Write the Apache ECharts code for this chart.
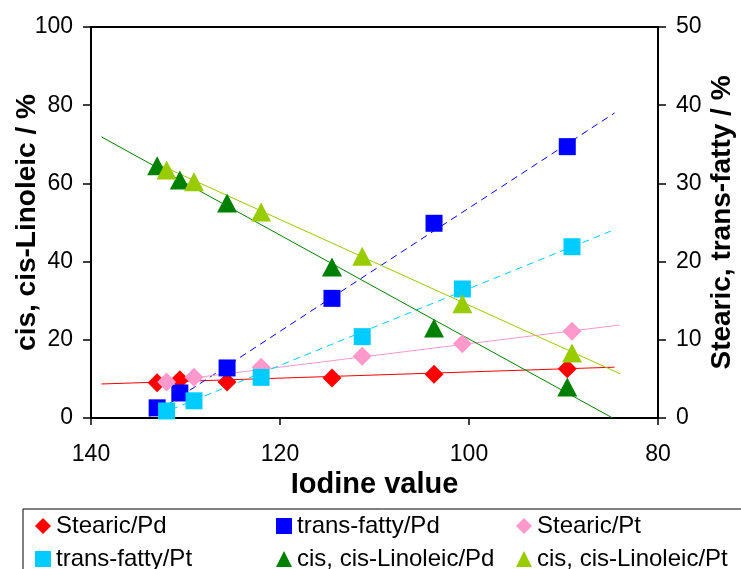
<!DOCTYPE html>
<html>
<head>
<meta charset="utf-8">
<script src="https://cdn.jsdelivr.net/npm/echarts@6/dist/echarts.min.js"></script>
<style>
  html, body { margin: 0; padding: 0; background: #fff; }
  #chart { width: 741px; height: 569px; }
</style>
</head>
<body>
<div id="chart"></div>
<script>
// iodine values for each catalyst
const iodinePd = [133.0, 130.6, 125.6, 114.5, 103.7, 89.6];
const iodinePt = [132.0, 129.1, 122.0, 111.3, 100.7, 89.1];

// right axis (%)
const stearicPd = [4.5, 4.9, 4.6, 5.1, 5.6, 6.3];
const transPd = [1.3, 3.2, 6.4, 15.3, 24.9, 34.7];
const stearicPt = [4.6, 5.2, 6.5, 7.9, 9.5, 11.1];
const transPt = [0.9, 2.2, 5.2, 10.4, 16.5, 21.9];

// left axis (%)
const linoleicPd = [64.5, 60.9, 55.0, 38.6, 23.0, 7.9];
const linoleicPt = [63.4, 60.4, 52.7, 41.4, 29.2, 16.6];

// trend line end points: [x start, x end], [y start, y end]
const trendStearicPdX = [138.9, 84.6], trendStearicPdY = [4.35, 6.5];
const trendTransPdX = [133.8, 84.6], trendTransPdY = [0.2, 39.0];
const trendStearicPtX = [132.7, 84.0], trendStearicPtY = [4.6, 11.9];
const trendTransPtX = [132.7, 85.0], trendTransPtY = [0.5, 23.9];
const trendLinPdX = [138.9, 84.8], trendLinPdY = [71.9, 0];
const trendLinPtX = [132.7, 84.0], trendLinPtY = [64.7, 11.3];

const xTicks = [80, 100, 120, 140];
const leftTicks = [0, 20, 40, 60, 80, 100];
const rightTicks = [0, 10, 20, 30, 40, 50];

const font = 'Liberation Sans, Arial, sans-serif';

const pairs = (xs, ys) => xs.map((x, i) => [x, ys[i]]);

const pointSeries = (name, xs, ys, yAxisIndex, symbol, size, color) => ({
    name: name,
    type: 'scatter',
    yAxisIndex: yAxisIndex,
    data: pairs(xs, ys),
    symbol: symbol,
    symbolSize: size,
    itemStyle: { color: color, opacity: 1 },
    z: 3
});

const trendSeries = (xs, ys, yAxisIndex, color, dashed) => ({
    type: 'line',
    yAxisIndex: yAxisIndex,
    data: pairs(xs, ys),
    showSymbol: false,
    symbol: 'none',
    silent: true,
    lineStyle: { color: color, width: 1, type: dashed ? [7, 5] : 'solid' },
    z: 2
});

const legendItem = (name, icon, left, top) => ({
    left: left,
    top: top,
    padding: 0,
    itemWidth: 16,
    itemHeight: 16,
    selectedMode: false,
    data: [{ name: name, icon: icon, itemStyle: { opacity: 1 } }],
    textStyle: { fontFamily: font, fontSize: 24, color: '#000' }
});

const chart = echarts.init(document.getElementById('chart'));

const option = {
    animation: false,
    backgroundColor: '#fff',
    grid: {
        left: 91, right: 83, top: 27, bottom: 151,
        containLabel: false,
        outerBoundsMode: 'none',
        show: true,
        borderColor: '#000',
        borderWidth: 2
    },
    legend: [
        legendItem('Stearic/Pd', 'diamond', 35, 514),
        legendItem('trans-fatty/Pd', 'rect', 276, 514),
        legendItem('Stearic/Pt', 'diamond', 516, 514),
        legendItem('trans-fatty/Pt', 'rect', 35, 547),
        legendItem('cis, cis-Linoleic/Pd', 'triangle', 276, 547),
        legendItem('cis, cis-Linoleic/Pt', 'triangle', 516, 547)
    ],
    graphic: [{
        type: 'rect',
        shape: { x: 23, y: 509, width: 760, height: 90 },
        style: { fill: 'none', stroke: '#000', lineWidth: 1 },
        silent: true
    }],
    xAxis: {
        type: 'value',
        min: xTicks[0],
        max: xTicks[xTicks.length - 1],
        interval: 20,
        inverse: true,
        name: 'Iodine value',
        nameLocation: 'middle',
        nameGap: 52,
        nameMoveOverlap: false,
        nameTextStyle: { fontFamily: font, fontSize: 29, fontWeight: 'bold', color: '#000' },
        axisLine: { show: true, lineStyle: { color: '#000', width: 2 } },
        axisTick: { show: true, inside: false, length: 7, lineStyle: { color: '#000', width: 1.5 } },
        axisLabel: { fontFamily: font, fontSize: 23, color: '#000', margin: 25 },
        splitLine: { show: false }
    },
    yAxis: [
        {
            type: 'value',
            position: 'left',
            min: leftTicks[0],
            max: leftTicks[leftTicks.length - 1],
            interval: 20,
            name: 'cis, cis-Linoleic / %',
            nameLocation: 'middle',
            nameGap: 50,
            nameMoveOverlap: false,
            nameTextStyle: { fontFamily: font, fontSize: 28, fontWeight: 'bold', color: '#000' },
            axisLine: { show: true, lineStyle: { color: '#000', width: 2 } },
            axisTick: { show: true, length: 8, lineStyle: { color: '#000', width: 1.5 } },
            axisLabel: { fontFamily: font, fontSize: 23, color: '#000', margin: 18 },
            splitLine: { show: false }
        },
        {
            type: 'value',
            position: 'right',
            min: rightTicks[0],
            max: rightTicks[rightTicks.length - 1],
            interval: 10,
            name: 'Stearic, trans-fatty / %',
            nameLocation: 'middle',
            nameGap: 50,
            nameRotate: 90,
            nameMoveOverlap: false,
            nameTextStyle: { fontFamily: font, fontSize: 28, fontWeight: 'bold', color: '#000' },
            axisLine: { show: true, lineStyle: { color: '#000', width: 2 } },
            axisTick: { show: true, length: 8, lineStyle: { color: '#000', width: 1.5 } },
            axisLabel: { fontFamily: font, fontSize: 23, color: '#000', margin: 18 },
            splitLine: { show: false }
        }
    ],
    series: [
        trendSeries(trendStearicPdX, trendStearicPdY, 1, '#ff0000', false),
        trendSeries(trendTransPdX, trendTransPdY, 1, '#0000ff', true),
        trendSeries(trendStearicPtX, trendStearicPtY, 1, '#ff99cc', false),
        trendSeries(trendTransPtX, trendTransPtY, 1, '#00ccff', true),
        trendSeries(trendLinPdX, trendLinPdY, 0, '#008000', false),
        trendSeries(trendLinPtX, trendLinPtY, 0, '#99cc00', false),
        pointSeries('Stearic/Pd', iodinePd, stearicPd, 1, 'diamond', [19, 19], '#ff0000'),
        pointSeries('trans-fatty/Pd', iodinePd, transPd, 1, 'rect', [17, 17], '#0000ff'),
        pointSeries('Stearic/Pt', iodinePt, stearicPt, 1, 'diamond', [19, 19], '#ff99cc'),
        pointSeries('trans-fatty/Pt', iodinePt, transPt, 1, 'rect', [17, 17], '#00ccff'),
        pointSeries('cis, cis-Linoleic/Pd', iodinePd, linoleicPd, 0, 'triangle', [20, 19], '#008000'),
        pointSeries('cis, cis-Linoleic/Pt', iodinePt, linoleicPt, 0, 'triangle', [20, 19], '#99cc00')
    ]
};

chart.setOption(option);
</script>
</body>
</html>
